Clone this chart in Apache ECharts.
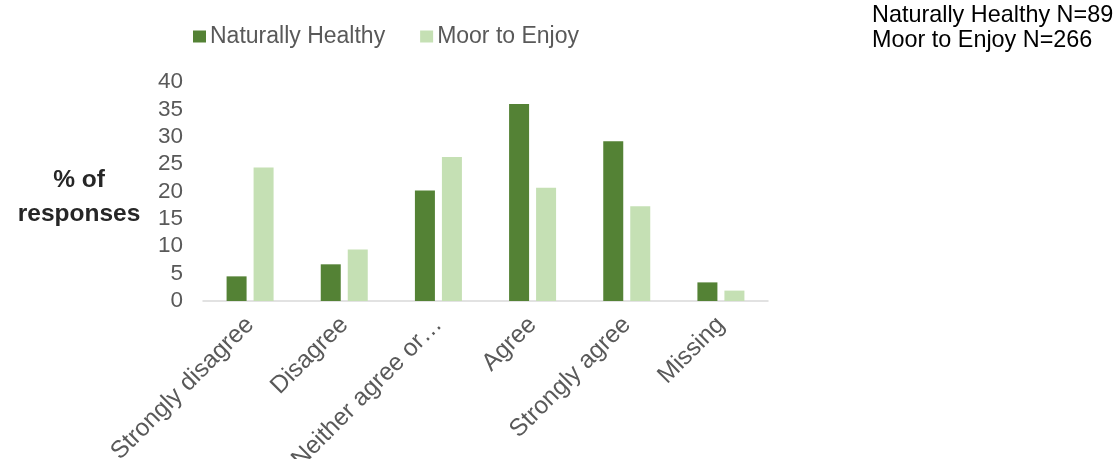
<!DOCTYPE html>
<html>
<head>
<meta charset="utf-8">
<script src="https://cdn.jsdelivr.net/npm/echarts@6/dist/echarts.min.js"></script>
<style>html,body{margin:0;padding:0;background:#fff;}#c{width:1118px;height:459px;}</style>
</head>
<body>
<div id="c"></div>
<script>
const categories = ["Strongly disagree", "Disagree", "Neither agree or disagree", "Agree", "Strongly agree", "Missing"];
const tickLabels = ["Strongly disagree", "Disagree", "Neither agree or\u2026", "Agree", "Strongly agree", "Missing"];
const naturallyHealthy = [4.5, 6.7, 20.2, 36.0, 29.2, 3.4];
const moorToEnjoy = [24.4, 9.4, 26.3, 20.7, 17.3, 1.9];
const seriesNames = ["Naturally Healthy", "Moor to Enjoy"];
const yTicks = {min: 0, max: 40, interval: 5};
const noteLines = ["Naturally Healthy N=89", "Moor to Enjoy N=266"];
const yTitle = "% of\nresponses";

const font = "Liberation Sans, Arial, sans-serif";
const chart = echarts.init(document.getElementById('c'), null, {renderer: 'canvas'});
chart.setOption({
  animation: false,
  textStyle: {fontFamily: font},
  color: ['#548235', '#C5E0B4'],
  legend: {
    top: 20, left: 188,
    itemWidth: 13, itemHeight: 12, itemGap: 35,
    icon: 'rect',
    textStyle: {fontSize: 23, color: '#595959', fontFamily: font, padding: [0, 0, 0, -1]},
    data: seriesNames
  },
  grid: {left: 203, right: 350, top: 82, bottom: 158, containLabel: false, outerBoundsMode: 'none'},
  xAxis: {
    type: 'category',
    data: categories,
    axisLine: {lineStyle: {color: '#d9d9d9', width: 1.5}},
    axisTick: {show: false},
    axisLabel: {
      rotate: 45, interval: 0, fontSize: 24.5, color: '#595959', margin: 20,
      fontFamily: font,
      formatter: (v, i) => tickLabels[i]
    }
  },
  yAxis: {
    type: 'value', min: yTicks.min, max: yTicks.max, interval: yTicks.interval,
    axisLine: {show: false}, axisTick: {show: false}, splitLine: {show: false},
    axisLabel: {fontSize: 22.5, color: '#595959', margin: 20, fontFamily: font}
  },
  series: [
    {name: seriesNames[0], type: 'bar', data: naturallyHealthy, barWidth: 20, barGap: '35%'},
    {name: seriesNames[1], type: 'bar', data: moorToEnjoy, barWidth: 20, barGap: '35%'}
  ],
  graphic: [
    {type: 'text', left: 872, top: 3, style: {text: noteLines.join('\n'), font: '23.4px ' + font, fill: '#000', lineHeight: 25}},
    {type: 'text', x: 79, y: 163, style: {text: yTitle, font: 'bold 24.5px ' + font, fill: '#262626', align: 'center', lineHeight: 34}}
  ]
});
</script>
</body>
</html>
